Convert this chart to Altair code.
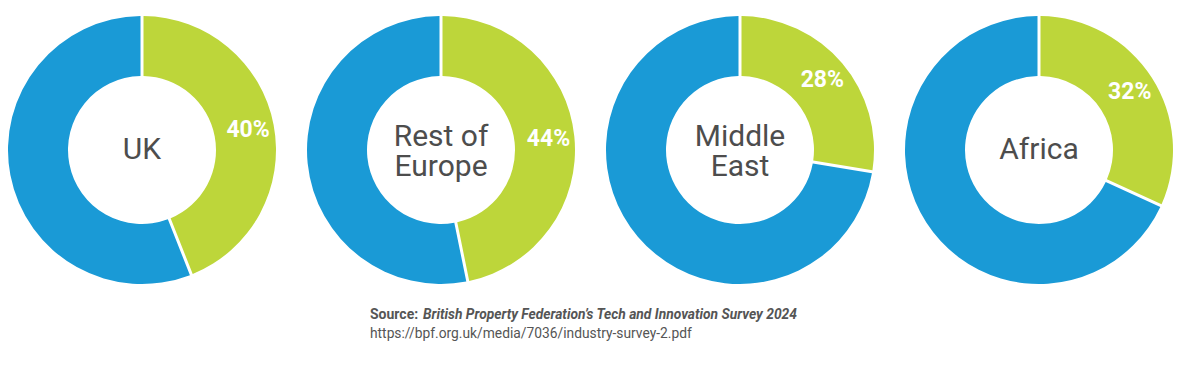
import math
import altair as alt
import pandas as pd

regions = ["UK", "Rest of Europe", "Middle East", "Africa"]
center_labels = ["UK", "Rest of\nEurope", "Middle\nEast", "Africa"]
# slice sizes as drawn in the picture (percent of the ring)
arc_shares = [44, 46.8, 27.6, 31.8]
# percentages printed on the slices
pct_labels = ["40%", "44%", "28%", "32%"]
segments = ["Share", "Rest"]
seg_colors = ["#BDD63A", "#1A9AD6"]

source_label = "Source:"
source_title = "British Property Federation\u2019s Tech and Innovation Survey 2024"
source_url = "https://bpf.org.uk/media/7036/industry-survey-2.pdf"

rows = []
for r, lab, s, p in zip(regions, center_labels, arc_shares, pct_labels):
    multi = "\n" in lab
    rows.append(dict(region=r, label=lab, multi=multi, segment="Share",
                     start=0, end=s, mid=s / 2, pct=p))
    rows.append(dict(region=r, label=lab, multi=multi, segment="Rest",
                     start=s, end=100, mid=(s + 100) / 2, pct=""))
df = pd.DataFrame(rows)

theta_scale = alt.Scale(domain=[0, 100], range=[0, 2 * math.pi])
color_scale = alt.Scale(domain=segments, range=seg_colors)


def panel(region):
    base = alt.Chart(df).transform_filter(alt.datum.region == region)
    arc = base.mark_arc(radius=134, radius2=74, padAngle=0.0196).encode(
        theta=alt.Theta("start:Q", scale=theta_scale, stack=None),
        theta2="end:Q",
        color=alt.Color("segment:N", scale=color_scale, legend=None),
    )
    share = base.transform_filter(alt.datum.segment == "Share")
    pct = share.mark_text(radius=108, font="Roboto", fontSize=23,
                          fontWeight="bold", color="white").encode(
        theta=alt.Theta("mid:Q", scale=theta_scale, stack=None),
        text="pct:N",
    )
    single = share.transform_filter("!datum.multi").mark_text(
        font="Roboto", fontSize=30, color="#4d4d4d").encode(text="label:N")
    multi = share.transform_filter("datum.multi").mark_text(
        font="Roboto", fontSize=30, lineHeight=30, lineBreak="\n", dy=-13,
        color="#4d4d4d").encode(text="label:N")
    return alt.layer(arc, pct, single, multi).properties(width=268, height=284)


panels = alt.hconcat(*[panel(r) for r in regions], spacing=31)

src_df = pd.DataFrame({"a": [source_label], "b": [source_title], "c": [source_url]})
src_base = alt.Chart(src_df)
s1 = src_base.mark_text(font="Roboto", fontSize=14, fontWeight="bold",
                        color="#555555", align="left", baseline="middle").encode(
    text="a:N", x=alt.value(362), y=alt.value(23))
s2 = src_base.mark_text(font="Roboto", fontSize=13.8, fontWeight="bold",
                        fontStyle="italic", color="#555555", align="left",
                        baseline="middle").encode(
    text="b:N", x=alt.value(415), y=alt.value(23))
s3 = src_base.mark_text(font="Roboto", fontSize=13.8, color="#555555",
                        align="left", baseline="middle").encode(
    text="c:N", x=alt.value(362), y=alt.value(42))
source = alt.layer(s1, s2, s3).properties(width=1174, height=50)

chart = alt.vconcat(panels, source, spacing=0).properties(
    padding=0
).configure_view(stroke=None)

chart.save("out.html", embed_options={"renderer": "svg", "actions": False})
